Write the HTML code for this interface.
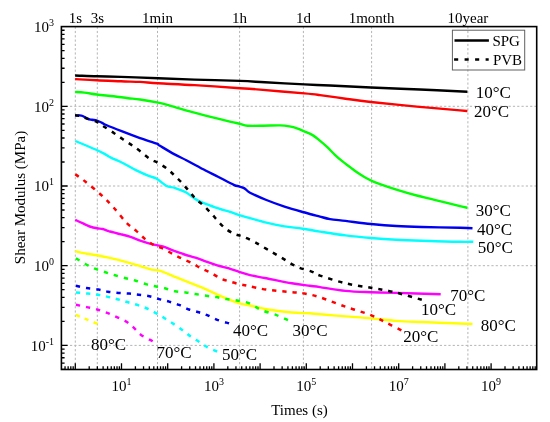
<!DOCTYPE html><html><head><meta charset="utf-8"><style>html,body{margin:0;padding:0;background:#fff;}svg{display:block;will-change:transform;}</style></head><body>
<svg width="550" height="422" viewBox="0 0 550 422" font-family='"Liberation Serif", serif'>
<rect x="0" y="0" width="550" height="422" fill="#fff"/>
<g stroke="#b4b4b4" stroke-width="1" stroke-dasharray="2.2 2.1" fill="none"><line x1="75.3" y1="26.6" x2="75.3" y2="369.5"/><line x1="97.3" y1="26.6" x2="97.3" y2="369.5"/><line x1="157.5" y1="26.6" x2="157.5" y2="369.5"/><line x1="239.6" y1="26.6" x2="239.6" y2="369.5"/><line x1="303.4" y1="26.6" x2="303.4" y2="369.5"/><line x1="371.6" y1="26.6" x2="371.6" y2="369.5"/><line x1="467.9" y1="26.6" x2="467.9" y2="369.5"/><line x1="61.4" y1="106.3" x2="536.7" y2="106.3"/><line x1="61.4" y1="186.0" x2="536.7" y2="186.0"/><line x1="61.4" y1="265.7" x2="536.7" y2="265.7"/><line x1="61.4" y1="345.4" x2="536.7" y2="345.4"/></g>
<path d="M75.1,75.5C78.7,75.6 89.3,76.1 96.9,76.3C104.5,76.5 114.5,76.7 120.9,76.9C127.3,77.1 129.3,77.2 135.5,77.4C141.7,77.6 148.4,77.8 158.2,78.2C168.0,78.6 180.9,79.1 194.5,79.6C208.1,80.0 228.2,80.5 240.0,80.9C251.8,81.4 254.2,81.7 265.0,82.3C275.8,82.9 293.7,83.9 304.5,84.4C315.3,84.9 318.9,85.0 330.0,85.5C341.1,86.0 355.9,86.8 370.9,87.5C385.9,88.2 403.9,88.8 420.0,89.5C436.1,90.2 459.5,91.3 467.4,91.7" fill="none" stroke="#000000" stroke-width="2.4" stroke-linejoin="round" stroke-linecap="butt"/>
<path d="M75.1,79.1C78.7,79.3 89.3,79.9 96.9,80.3C104.5,80.7 113.7,81.0 120.9,81.3C128.1,81.6 133.8,81.6 140.0,81.9C146.2,82.2 149.1,82.8 158.2,83.3C167.3,83.8 180.9,84.3 194.5,85.1C208.1,85.9 229.1,87.5 240.0,88.2C250.9,89.0 249.2,88.7 260.0,89.6C270.8,90.5 294.5,92.5 304.5,93.4C314.5,94.3 313.2,94.2 320.0,95.1C326.8,96.0 337.0,97.5 345.5,98.7C354.0,99.9 359.0,100.7 370.9,102.0C382.8,103.3 401.8,105.2 416.7,106.6C431.6,108.0 451.6,109.7 460.0,110.4C468.4,111.1 466.2,110.9 467.4,111.0" fill="none" stroke="#ff0000" stroke-width="2.4" stroke-linejoin="round" stroke-linecap="butt"/>
<path d="M75.1,91.9C76.7,92.0 80.9,92.2 84.5,92.6C88.1,93.0 92.1,93.9 96.9,94.5C101.8,95.1 108.4,95.7 113.6,96.3C118.8,96.9 123.8,97.7 128.2,98.2C132.6,98.7 135.0,98.8 140.0,99.5C145.0,100.2 152.1,101.4 158.2,102.7C164.3,104.0 170.3,105.9 176.4,107.6C182.5,109.3 188.4,111.1 194.5,112.7C200.6,114.3 206.6,115.8 212.7,117.3C218.8,118.8 226.3,120.7 230.9,121.8C235.5,122.9 237.2,123.1 240.0,123.8C242.8,124.5 243.7,125.4 247.5,125.7C251.3,126.0 257.3,125.8 262.7,125.7C268.1,125.7 275.5,125.3 280.0,125.4C284.5,125.5 286.7,125.9 289.5,126.4C292.3,126.9 294.6,127.5 297.0,128.3C299.4,129.1 301.2,130.0 303.7,131.1C306.2,132.2 309.5,133.3 312.2,134.9C314.9,136.5 317.3,138.6 319.8,140.6C322.3,142.6 324.8,144.8 327.3,147.2C329.8,149.6 332.4,152.4 334.9,154.8C337.4,157.2 340.0,159.4 342.5,161.4C345.0,163.4 347.6,165.2 350.1,167.1C352.6,169.0 355.2,171.1 357.7,172.8C360.2,174.5 362.7,176.1 365.2,177.5C367.7,178.9 370.3,180.2 372.8,181.3C375.3,182.4 376.1,182.7 380.0,184.1C383.9,185.5 390.3,187.7 396.4,189.6C402.5,191.5 410.3,193.8 416.7,195.5C423.1,197.2 427.3,198.0 434.5,199.8C441.7,201.6 454.5,204.9 460.0,206.2C465.5,207.5 466.2,207.5 467.4,207.8" fill="none" stroke="#00ff00" stroke-width="2.4" stroke-linejoin="round" stroke-linecap="butt"/>
<path d="M75.3,115.6C76.3,115.6 79.5,115.0 81.6,115.6C83.7,116.1 86.0,118.2 87.7,118.9C89.4,119.6 90.5,119.5 92.0,119.8C93.5,120.1 95.3,120.1 97.0,120.6C98.7,121.1 100.5,122.1 102.0,122.8C103.5,123.5 102.9,123.6 106.2,125.0C109.5,126.4 116.0,129.0 121.6,131.2C127.2,133.4 134.1,136.0 140.0,138.1C145.9,140.2 153.6,142.5 156.8,143.7C160.1,144.9 156.6,143.8 159.5,145.5C162.4,147.2 169.5,151.6 174.1,154.1C178.7,156.6 181.6,157.8 186.8,160.5C192.0,163.2 200.2,167.8 205.5,170.5C210.8,173.2 213.8,174.6 218.5,177.0C223.2,179.4 230.4,183.2 233.8,184.8C237.2,186.4 237.3,185.8 239.1,186.4C240.9,187.0 242.7,187.4 244.5,188.4C246.3,189.4 246.3,190.8 250.0,192.7C253.7,194.6 260.6,197.7 266.4,200.0C272.1,202.3 278.4,204.6 284.5,206.6C290.6,208.6 298.1,210.7 302.7,212.0C307.2,213.3 308.9,213.7 311.8,214.5C314.7,215.3 317.0,215.8 320.0,216.6C323.0,217.4 325.8,218.4 330.0,219.1C334.2,219.8 338.7,220.1 345.5,220.9C352.3,221.7 362.4,223.2 370.9,224.0C379.4,224.8 387.9,225.5 396.4,226.0C404.9,226.5 411.2,226.7 421.8,227.0C432.4,227.3 451.6,227.6 460.0,227.8C468.4,228.0 470.4,228.1 472.5,228.2" fill="none" stroke="#0000f0" stroke-width="2.4" stroke-linejoin="round" stroke-linecap="butt"/>
<path d="M75.3,141.0C78.7,142.4 90.6,147.3 95.6,149.5C100.5,151.7 102.5,152.8 105.0,154.1C107.5,155.4 107.9,156.1 110.9,157.6C113.9,159.1 119.0,161.1 123.2,163.2C127.5,165.3 132.2,168.3 136.4,170.4C140.7,172.5 145.4,174.6 148.7,175.9C152.0,177.2 153.5,176.9 156.4,178.5C159.3,180.1 163.1,184.1 166.2,185.7C169.3,187.3 171.6,186.8 174.9,187.9C178.2,189.0 182.2,190.3 185.8,192.3C189.4,194.3 192.7,197.7 196.7,199.9C200.7,202.1 205.4,203.7 209.8,205.4C214.2,207.1 219.5,208.8 222.9,209.9C226.3,211.0 227.3,210.9 230.0,211.8C232.7,212.7 236.1,214.1 239.1,215.1C242.1,216.1 243.6,216.3 248.2,217.6C252.8,218.9 260.3,221.2 266.4,222.7C272.4,224.2 278.4,225.4 284.5,226.4C290.6,227.4 296.8,227.8 302.7,228.7C308.6,229.6 312.9,230.5 320.0,231.6C327.1,232.7 337.0,234.3 345.5,235.4C354.0,236.5 362.4,237.3 370.9,238.0C379.4,238.7 387.9,239.3 396.4,239.8C404.9,240.3 411.2,240.5 421.8,240.8C432.4,241.1 451.4,241.7 460.0,241.8C468.6,242.0 471.1,241.7 473.3,241.7" fill="none" stroke="#00ffff" stroke-width="2.4" stroke-linejoin="round" stroke-linecap="butt"/>
<path d="M75.2,219.8C76.4,220.4 80.1,222.1 82.5,223.2C84.9,224.3 87.3,225.7 89.7,226.5C92.1,227.3 94.8,227.9 97.0,228.3C99.2,228.7 100.9,228.5 102.8,229.0C104.7,229.5 105.7,230.3 108.6,231.2C111.5,232.0 116.6,233.2 120.3,234.1C124.0,235.0 127.1,235.7 130.5,236.8C133.9,237.9 137.3,239.7 140.9,240.9C144.5,242.1 148.2,243.3 151.8,244.2C155.4,245.1 159.1,245.3 162.7,246.4C166.3,247.5 170.0,249.3 173.6,250.7C177.2,252.0 180.8,253.3 184.5,254.5C188.2,255.7 191.8,256.5 195.5,257.7C199.2,258.9 202.8,260.4 206.4,261.7C210.0,263.0 213.7,264.3 217.3,265.4C220.9,266.5 224.6,267.1 228.2,268.2C231.8,269.3 235.5,270.7 239.1,271.9C242.7,273.1 245.4,274.1 250.0,275.2C254.6,276.2 259.4,276.8 266.4,278.2C273.4,279.6 284.6,282.0 291.8,283.3C299.0,284.6 304.9,285.2 309.6,285.8C314.3,286.4 314.0,286.2 320.0,287.1C326.0,288.0 337.0,290.0 345.5,290.9C354.0,291.8 362.4,291.9 370.9,292.2C379.4,292.5 384.8,292.6 396.4,292.9C408.0,293.2 433.3,294.0 440.7,294.2" fill="none" stroke="#ff00ff" stroke-width="2.4" stroke-linejoin="round" stroke-linecap="butt"/>
<path d="M75.2,251.2C77.1,251.6 83.2,253.0 86.8,253.7C90.4,254.4 93.4,254.5 97.0,255.2C100.6,255.9 104.8,256.8 108.6,257.7C112.4,258.6 116.3,259.4 120.0,260.3C123.7,261.2 127.3,262.3 130.9,263.4C134.5,264.4 138.3,265.6 141.8,266.6C145.3,267.7 148.7,269.0 151.8,269.7C154.9,270.4 156.9,269.7 160.5,270.8C164.1,271.9 169.6,274.7 173.6,276.3C177.6,277.9 180.1,278.9 184.5,280.6C188.9,282.3 194.5,284.4 199.8,286.6C205.1,288.9 211.6,292.0 216.3,294.1C221.0,296.2 224.2,297.6 227.9,299.1C231.6,300.6 235.0,302.1 238.7,303.2C242.4,304.3 245.4,304.5 250.0,305.5C254.6,306.5 259.4,308.0 266.4,309.2C273.4,310.4 284.6,311.8 291.8,312.5C299.0,313.2 304.9,313.0 309.6,313.3C314.3,313.6 314.0,313.8 320.0,314.3C326.0,314.8 337.0,315.7 345.5,316.4C354.0,317.1 362.4,317.6 370.9,318.4C379.4,319.1 387.9,320.3 396.4,320.9C404.9,321.5 411.2,321.6 421.8,322.0C432.4,322.4 451.6,323.2 460.0,323.5C468.4,323.8 470.4,323.9 472.5,324.0" fill="none" stroke="#ffff00" stroke-width="2.4" stroke-linejoin="round" stroke-linecap="butt"/>
<path d="M75.0,115.3C75.8,115.4 78.1,115.5 80.0,116.0C81.9,116.5 83.8,117.5 86.5,118.4C89.2,119.4 94.2,120.9 96.5,121.7C98.8,122.5 98.6,122.6 100.0,123.5C101.4,124.4 102.7,125.6 105.0,127.2C107.3,128.8 111.1,131.1 114.1,133.2C117.1,135.2 120.2,137.4 123.2,139.5C126.2,141.6 129.4,143.5 132.3,145.5C135.2,147.5 137.6,149.2 140.5,151.4C143.4,153.6 146.5,156.6 149.5,158.6C152.5,160.6 155.6,161.4 158.6,163.2C161.6,165.0 165.0,167.1 167.7,169.2C170.4,171.3 172.4,173.5 174.9,175.9C177.4,178.3 180.1,180.9 182.5,183.5C184.9,186.1 186.9,188.6 189.1,191.2C191.3,193.8 193.2,196.4 195.6,198.8C198.0,201.2 200.8,203.0 203.3,205.4C205.9,207.8 208.5,210.5 210.9,213.0C213.3,215.5 215.1,218.0 217.5,220.6C219.9,223.2 222.4,226.1 225.1,228.3C227.8,230.5 230.9,232.3 233.8,233.7C236.7,235.1 239.3,235.3 242.6,236.6C245.9,237.9 249.5,239.3 253.5,241.4C257.5,243.5 261.7,246.2 266.4,248.9C271.1,251.6 276.5,254.8 281.6,257.8C286.7,260.8 291.8,264.4 296.9,266.7C302.0,269.0 308.3,270.3 312.2,271.8C316.1,273.3 314.4,273.7 320.0,275.6C325.6,277.5 337.0,281.3 345.5,283.3C354.0,285.3 363.7,286.5 370.9,287.8C378.1,289.1 383.2,289.8 388.7,290.9C394.2,292.0 398.5,293.2 404.0,294.7C409.5,296.2 418.8,298.9 421.8,299.8" fill="none" stroke="#000000" stroke-width="2.5" stroke-dasharray="4.30 5.90" stroke-linejoin="round"/>
<path d="M75.3,174.2C77.0,175.5 81.3,178.4 85.5,181.8C89.7,185.2 96.0,190.2 100.7,194.5C105.4,198.8 109.2,202.6 113.4,207.3C117.7,212.0 122.4,218.5 126.2,222.5C130.1,226.5 133.3,228.3 136.5,231.1C139.7,233.9 142.4,236.9 145.3,239.2C148.2,241.5 150.9,243.5 154.0,245.1C157.1,246.7 160.5,247.4 163.8,249.0C167.1,250.6 170.5,252.9 173.6,254.5C176.7,256.1 179.3,257.4 182.4,258.8C185.5,260.2 189.1,261.6 192.2,263.2C195.3,264.8 197.8,266.6 200.9,268.2C204.0,269.8 207.4,270.9 210.7,272.6C214.0,274.3 217.2,277.0 220.5,278.5C223.8,280.0 227.1,280.7 230.4,281.7C233.7,282.7 237.1,283.6 240.2,284.3C243.3,285.0 244.5,285.2 248.9,286.1C253.3,287.0 259.2,288.6 266.4,289.6C273.5,290.6 285.4,291.6 291.8,292.2C298.2,292.8 299.8,292.6 304.5,293.5C309.2,294.4 313.2,295.1 320.0,297.3C326.8,299.5 337.0,303.7 345.5,306.7C354.0,309.7 364.1,312.4 370.9,315.1C377.7,317.8 381.1,320.1 386.2,322.7C391.3,325.2 398.9,329.1 401.4,330.4" fill="none" stroke="#ff0000" stroke-width="2.5" stroke-dasharray="4.30 5.87" stroke-linejoin="round"/>
<path d="M75.9,258.2C77.5,259.2 82.2,262.2 85.4,264.0C88.6,265.8 91.6,267.3 94.9,268.7C98.2,270.1 102.2,271.2 105.5,272.3C108.8,273.4 111.6,274.3 115.0,275.3C118.4,276.3 122.3,277.3 125.7,278.2C129.1,279.1 131.8,279.5 135.2,280.5C138.5,281.5 142.5,283.1 145.8,284.1C149.1,285.1 151.8,285.6 155.0,286.3C158.2,287.0 161.6,287.5 164.9,288.3C168.2,289.1 171.4,290.6 174.9,291.3C178.4,292.0 182.2,291.9 185.7,292.4C189.1,292.9 192.1,293.5 195.6,294.1C199.1,294.7 202.9,295.3 206.4,295.8C209.9,296.3 213.0,296.6 216.3,297.1C219.6,297.7 222.8,298.6 226.3,299.1C229.8,299.7 233.3,299.7 237.1,300.4C240.9,301.1 244.9,301.5 248.9,303.1C252.9,304.7 256.7,308.0 261.3,310.0C265.9,312.0 272.1,313.4 276.5,315.1C280.9,316.8 286.1,319.4 288.0,320.2" fill="none" stroke="#00ff00" stroke-width="2.5" stroke-dasharray="4.30 6.10" stroke-linejoin="round"/>
<path d="M75.9,285.8C77.7,286.2 82.8,287.5 86.6,288.1C90.3,288.7 94.9,288.9 98.4,289.5C102.0,290.1 104.5,291.1 107.9,291.7C111.3,292.3 115.0,292.6 118.6,292.9C122.1,293.2 125.8,293.3 129.2,293.6C132.5,293.9 135.3,294.4 138.7,294.8C142.1,295.2 146.0,295.5 149.4,296.2C152.8,296.9 155.8,298.2 159.1,299.1C162.4,300.0 165.8,300.6 169.1,301.6C172.4,302.6 175.7,303.6 179.0,304.9C182.3,306.2 185.7,308.3 189.0,309.5C192.3,310.7 195.9,311.4 198.9,312.3C201.9,313.2 204.1,313.9 207.2,315.2C210.2,316.4 213.5,318.4 217.2,319.8C220.8,321.2 227.1,322.7 229.1,323.3" fill="none" stroke="#0000f0" stroke-width="2.5" stroke-dasharray="4.30 5.99" stroke-linejoin="round"/>
<path d="M75.9,292.4C77.9,292.6 84.0,293.2 87.8,293.6C91.5,294.0 94.9,294.2 98.4,294.8C102.0,295.4 105.7,296.3 109.1,297.1C112.5,297.9 115.4,298.6 118.6,299.5C121.8,300.4 124.8,301.3 128.1,302.3C131.4,303.3 135.3,304.3 138.7,305.4C142.0,306.5 145.1,307.6 148.2,309.0C151.3,310.4 154.3,312.1 157.2,313.8C160.1,315.5 162.9,317.2 165.8,319.0C168.8,320.8 172.0,322.9 174.9,324.8C177.8,326.7 180.6,328.7 183.2,330.6C185.8,332.5 188.0,334.5 190.6,336.4C193.2,338.2 196.1,339.9 198.9,341.7C201.7,343.5 204.2,345.6 207.2,347.2C210.2,348.8 215.4,350.8 217.1,351.5" fill="none" stroke="#00ffff" stroke-width="2.5" stroke-dasharray="4.30 5.79" stroke-linejoin="round"/>
<path d="M75.9,304.7C77.7,305.1 83.0,306.3 86.6,307.1C90.2,307.9 93.8,308.5 97.3,309.5C100.8,310.5 104.6,311.9 107.9,313.2C111.2,314.5 114.2,315.8 117.4,317.3C120.6,318.8 124.1,320.2 126.9,322.0C129.7,323.8 131.6,325.7 134.0,327.9C136.4,330.1 138.0,332.8 141.1,335.0C144.2,337.2 150.8,340.2 152.7,341.3" fill="none" stroke="#ff00ff" stroke-width="2.5" stroke-dasharray="4.30 5.98" stroke-linejoin="round"/>
<path d="M75.9,314.9C77.5,315.6 81.8,317.4 85.4,318.9C89.0,320.4 95.5,323.0 97.5,323.8" fill="none" stroke="#ffff00" stroke-width="2.5" stroke-dasharray="4.30 5.23" stroke-linejoin="round"/>
<rect x="61.4" y="26.6" width="475.3" height="342.9" fill="none" stroke="#000" stroke-width="1.6"/>
<path d="M61.4 369.39h3.2M61.4 363.08h3.2M61.4 357.75h3.2M61.4 353.12h3.2M61.4 349.05h3.2M61.4 345.40h6.2M61.4 321.41h3.2M61.4 307.37h3.2M61.4 297.42h3.2M61.4 289.69h3.2M61.4 283.38h3.2M61.4 278.05h3.2M61.4 273.42h3.2M61.4 269.35h3.2M61.4 265.70h6.2M61.4 241.71h3.2M61.4 227.67h3.2M61.4 217.72h3.2M61.4 209.99h3.2M61.4 203.68h3.2M61.4 198.35h3.2M61.4 193.72h3.2M61.4 189.65h3.2M61.4 186.00h6.2M61.4 162.01h3.2M61.4 147.97h3.2M61.4 138.02h3.2M61.4 130.29h3.2M61.4 123.98h3.2M61.4 118.65h3.2M61.4 114.02h3.2M61.4 109.95h3.2M61.4 106.30h6.2M61.4 82.31h3.2M61.4 68.27h3.2M61.4 58.32h3.2M61.4 50.59h3.2M61.4 44.28h3.2M61.4 38.95h3.2M61.4 34.32h3.2M61.4 30.25h3.2M65.05 369.5v-3.2M68.14 369.5v-3.2M70.82 369.5v-3.2M73.19 369.5v-3.2M75.30 369.5v-6.2M89.21 369.5v-3.2M97.34 369.5v-3.2M103.12 369.5v-3.2M107.59 369.5v-3.2M111.25 369.5v-3.2M114.34 369.5v-3.2M117.02 369.5v-3.2M119.39 369.5v-3.2M121.50 369.5v-6.2M135.41 369.5v-3.2M143.54 369.5v-3.2M149.32 369.5v-3.2M153.79 369.5v-3.2M157.45 369.5v-3.2M160.54 369.5v-3.2M163.22 369.5v-3.2M165.59 369.5v-3.2M167.70 369.5v-6.2M181.61 369.5v-3.2M189.74 369.5v-3.2M195.52 369.5v-3.2M199.99 369.5v-3.2M203.65 369.5v-3.2M206.74 369.5v-3.2M209.42 369.5v-3.2M211.79 369.5v-3.2M213.90 369.5v-6.2M227.81 369.5v-3.2M235.94 369.5v-3.2M241.72 369.5v-3.2M246.19 369.5v-3.2M249.85 369.5v-3.2M252.94 369.5v-3.2M255.62 369.5v-3.2M257.99 369.5v-3.2M260.10 369.5v-6.2M274.01 369.5v-3.2M282.14 369.5v-3.2M287.92 369.5v-3.2M292.39 369.5v-3.2M296.05 369.5v-3.2M299.14 369.5v-3.2M301.82 369.5v-3.2M304.19 369.5v-3.2M306.30 369.5v-6.2M320.21 369.5v-3.2M328.34 369.5v-3.2M334.12 369.5v-3.2M338.59 369.5v-3.2M342.25 369.5v-3.2M345.34 369.5v-3.2M348.02 369.5v-3.2M350.39 369.5v-3.2M352.50 369.5v-6.2M366.41 369.5v-3.2M374.54 369.5v-3.2M380.32 369.5v-3.2M384.79 369.5v-3.2M388.45 369.5v-3.2M391.54 369.5v-3.2M394.22 369.5v-3.2M396.59 369.5v-3.2M398.70 369.5v-6.2M412.61 369.5v-3.2M420.74 369.5v-3.2M426.52 369.5v-3.2M430.99 369.5v-3.2M434.65 369.5v-3.2M437.74 369.5v-3.2M440.42 369.5v-3.2M442.79 369.5v-3.2M444.90 369.5v-6.2M458.81 369.5v-3.2M466.94 369.5v-3.2M472.72 369.5v-3.2M477.19 369.5v-3.2M480.85 369.5v-3.2M483.94 369.5v-3.2M486.62 369.5v-3.2M488.99 369.5v-3.2M491.10 369.5v-6.2M505.01 369.5v-3.2M513.14 369.5v-3.2M518.92 369.5v-3.2M523.39 369.5v-3.2M527.05 369.5v-3.2M530.14 369.5v-3.2M532.82 369.5v-3.2M535.19 369.5v-3.2" stroke="#000" stroke-width="1.3" fill="none"/>
<text x="54" y="31.8" font-size="15" text-anchor="end">10<tspan font-size="10" dy="-6">3</tspan></text>
<text x="54" y="111.5" font-size="15" text-anchor="end">10<tspan font-size="10" dy="-6">2</tspan></text>
<text x="54" y="191.2" font-size="15" text-anchor="end">10<tspan font-size="10" dy="-6">1</tspan></text>
<text x="54" y="270.9" font-size="15" text-anchor="end">10<tspan font-size="10" dy="-6">0</tspan></text>
<text x="54" y="350.6" font-size="15" text-anchor="end">10<tspan font-size="10" dy="-6">-1</tspan></text>
<text x="121.5" y="391" font-size="15" text-anchor="middle">10<tspan font-size="10" dy="-6">1</tspan></text>
<text x="213.9" y="391" font-size="15" text-anchor="middle">10<tspan font-size="10" dy="-6">3</tspan></text>
<text x="306.3" y="391" font-size="15" text-anchor="middle">10<tspan font-size="10" dy="-6">5</tspan></text>
<text x="398.7" y="391" font-size="15" text-anchor="middle">10<tspan font-size="10" dy="-6">7</tspan></text>
<text x="491.1" y="391" font-size="15" text-anchor="middle">10<tspan font-size="10" dy="-6">9</tspan></text>
<text x="75.3" y="23.2" font-size="15" text-anchor="middle">1s</text>
<text x="97.3" y="23.2" font-size="15" text-anchor="middle">3s</text>
<text x="157.5" y="23.2" font-size="15" text-anchor="middle">1min</text>
<text x="239.6" y="23.2" font-size="15" text-anchor="middle">1h</text>
<text x="303.4" y="23.2" font-size="15" text-anchor="middle">1d</text>
<text x="371.6" y="23.2" font-size="15" text-anchor="middle">1month</text>
<text x="467.9" y="23.2" font-size="15" text-anchor="middle">10year</text>
<text x="299.5" y="414.5" font-size="15" text-anchor="middle">Times (s)</text>
<text transform="translate(24.8,197.5) rotate(-90)" x="0" y="0" font-size="15" text-anchor="middle">Shear Modulus (MPa)</text>
<text x="475.8" y="97.5" font-size="17">10°C</text>
<text x="473.9" y="116.5" font-size="17">20°C</text>
<text x="475.8" y="215.5" font-size="17">30°C</text>
<text x="477.0" y="234.5" font-size="17">40°C</text>
<text x="477.8" y="253.1" font-size="17">50°C</text>
<text x="450.3" y="301.0" font-size="17">70°C</text>
<text x="480.8" y="331.1" font-size="17">80°C</text>
<text x="421.0" y="314.5" font-size="17">10°C</text>
<text x="403.2" y="342.0" font-size="17">20°C</text>
<text x="292.5" y="336.2" font-size="17">30°C</text>
<text x="232.9" y="336.2" font-size="17">40°C</text>
<text x="221.9" y="359.7" font-size="17">50°C</text>
<text x="156.5" y="357.6" font-size="17">70°C</text>
<text x="91.0" y="349.5" font-size="17">80°C</text>
<rect x="452.4" y="30.2" width="72.3" height="39.8" fill="none" stroke="#606060" stroke-width="1"/>
<line x1="454.5" y1="40.6" x2="488.9" y2="40.6" stroke="#000" stroke-width="2.5"/>
<line x1="454.1" y1="59.5" x2="488.7" y2="59.5" stroke="#000" stroke-width="2.6" stroke-dasharray="4.1 6.4"/>
<text x="492.4" y="46" font-size="15">SPG</text>
<text x="492.9" y="64.8" font-size="15">PVB</text>
</svg></body></html>
